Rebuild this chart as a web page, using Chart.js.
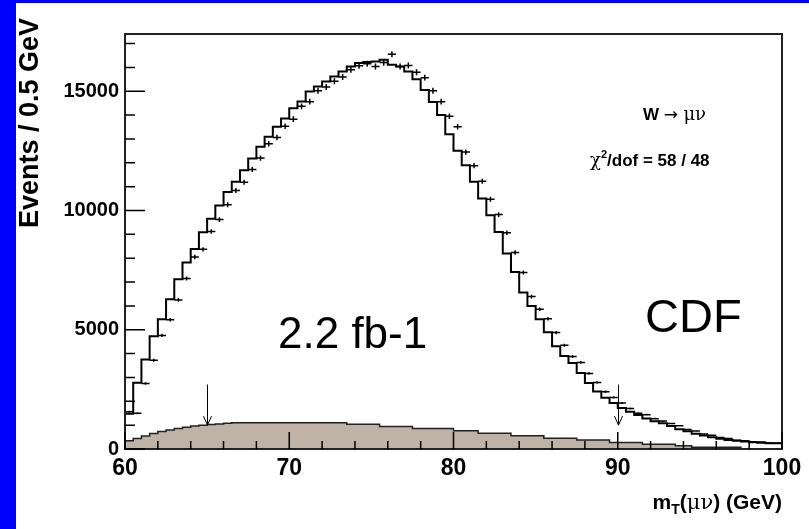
<!DOCTYPE html>
<html>
<head>
<meta charset="utf-8">
<title>W to mu nu transverse mass</title>
<script src="https://cdn.jsdelivr.net/npm/chart.js@4.4.0/dist/chart.umd.min.js"></script>
<style>
  html, body { margin: 0; padding: 0; background: #0000ff; overflow: hidden; }
  #pad { position: absolute; left: 16px; top: 3px; width: 793px; height: 526px; background: #ffffff; }
</style>
</head>
<body>
<div id="pad"><canvas id="mtChart" width="793" height="526"></canvas></div>
<script>
// binning of the m_T histogram (GeV)
const binStart = 60;
const binWidth = 0.5;

// simulated W -> mu nu template, events per bin
const mcEvents = [
  1600, 1480, 2780, 3750, 4730, 5440, 6280, 7120, 7820, 8390,
  9090, 9650, 10210, 10780, 11200, 11690, 12180, 12670, 13090, 13510,
  13860, 14290, 14570, 14990, 15200, 15410, 15620, 15830, 16040, 16180,
  16230, 16250, 16320, 16110, 16040, 15830, 15500, 15050, 14550, 14000,
  13200, 12500, 11900, 11200, 10500, 9800, 9100, 8200, 7420, 6560,
  6000, 5440, 4900, 4310, 3900, 3610, 3190, 2770, 2415, 2150,
  1925, 1715, 1560, 1430, 1280, 1160, 1080, 960, 830, 740,
  640, 570, 490, 430, 380, 345, 310, 285, 260, 240
];

// measured events per bin
const dataEvents = [
  1560, 1500, 2750, 3720, 4760, 5420, 6250, 7150, 8050, 8370,
  9120, 9620, 10240, 10840, 11180, 11720, 12200, 12800, 13060, 13530,
  13830, 14370, 14560, 15020, 15180, 15420, 15600, 15900, 16070, 16150,
  16040, 16200, 16550, 16040, 16080, 15800, 15570, 15020, 14560, 13950,
  13510, 12450, 11880, 11230, 10470, 9830, 9070, 8240, 7400, 6390,
  5860, 5460, 4880, 4350, 3880, 3630, 3170, 2790, 2400, 2160,
  1930, 1700, 1500, 1440, 1270, 1170, 1070, 970, 820, 750,
  630, 580, 480, 440, 370, 350, 300, 290, 250, 245
];

// background estimate, events per bin
const bkgEvents = [
  210, 345, 440, 550, 650, 730, 800, 855, 910, 965,
  995, 1025, 1050, 1075, 1105, 1105, 1105, 1105, 1105, 1105,
  1105, 1105, 1105, 1105, 1105, 1105, 1105, 1105, 1040, 1035,
  1035, 1035, 940, 940, 940, 940, 860, 860, 860, 860,
  860, 760, 760, 760, 665, 665, 665, 665, 555, 555,
  555, 555, 455, 455, 455, 455, 375, 375, 375, 375,
  275, 275, 275, 275, 195, 195, 195, 195, 140, 140,
  70, 70, 70, 70, 70, 70, 0, 0, 0, 0
];

// cut positions marked with arrows (GeV) and arrow span (events)
const cutPositions = [65, 90];
const arrowTop = 2700;
const arrowTip = 1000;

// axis ticks
const xMajor = [60, 70, 80, 90, 100];
const xMinor = [62, 64, 66, 68, 72, 74, 76, 78, 82, 84, 86, 88, 92, 94, 96, 98];
const yMajor = [0, 5000, 10000, 15000];
const yMinor = [1000, 2000, 3000, 4000, 6000, 7000, 8000, 9000, 11000, 12000, 13000, 14000, 16000, 17000];

// histogram outline points: left edge of each bin, plus closing edge
function stepPoints(values) {
  const pts = [{ x: binStart, y: 0 }];
  values.forEach((v, i) => pts.push({ x: binStart + i * binWidth, y: v }));
  const end = binStart + values.length * binWidth;
  pts.push({ x: end, y: values[values.length - 1] });
  return pts;
}

const SANS = '"Liberation Sans", Arial, sans-serif';

const rootStyle = {
  id: 'rootStyle',
  afterDatasetsDraw(chart) {
    const { ctx, chartArea: a, scales: { x, y } } = chart;
    ctx.save();
    ctx.strokeStyle = '#000';

    // data points with error bars
    ctx.lineWidth = 1.5;
    dataEvents.forEach((v, i) => {
      const xc = binStart + (i + 0.5) * binWidth;
      const err = Math.sqrt(v);
      const px = x.getPixelForValue(xc);
      const py = y.getPixelForValue(v);
      ctx.beginPath();
      ctx.moveTo(x.getPixelForValue(xc - binWidth / 2), py);
      ctx.lineTo(x.getPixelForValue(xc + binWidth / 2), py);
      ctx.moveTo(px, y.getPixelForValue(v - err));
      ctx.lineTo(px, y.getPixelForValue(v + err));
      ctx.stroke();
    });

    // cut arrows
    ctx.lineWidth = 1;
    cutPositions.forEach(c => {
      const px = Math.round(x.getPixelForValue(c)) + 0.5;
      const top = y.getPixelForValue(arrowTop);
      const tip = y.getPixelForValue(arrowTip);
      ctx.beginPath();
      ctx.moveTo(px, top);
      ctx.lineTo(px, tip);
      ctx.moveTo(px - 4, tip - 9);
      ctx.lineTo(px, tip);
      ctx.lineTo(px + 4, tip - 9);
      ctx.stroke();
    });

    // frame
    ctx.lineWidth = 2;
    ctx.strokeStyle = '#222';
    ctx.strokeRect(a.left, a.top, a.right - a.left, a.bottom - a.top);

    // inward ticks
    ctx.lineWidth = 1.5;
    ctx.strokeStyle = '#000';
    ctx.beginPath();
    xMajor.forEach(t => {
      const px = x.getPixelForValue(t);
      ctx.moveTo(px, a.bottom); ctx.lineTo(px, a.bottom - 17);
    });
    xMinor.forEach(t => {
      const px = x.getPixelForValue(t);
      ctx.moveTo(px, a.bottom); ctx.lineTo(px, a.bottom - 8);
    });
    yMajor.forEach(t => {
      const py = y.getPixelForValue(t);
      ctx.moveTo(a.left, py); ctx.lineTo(a.left + 20, py);
    });
    yMinor.forEach(t => {
      const py = y.getPixelForValue(t);
      ctx.moveTo(a.left, py); ctx.lineTo(a.left + 10, py);
    });
    ctx.stroke();
    ctx.restore();
  },
  afterDraw(chart) {
    const { ctx, chartArea: a } = chart;
    ctx.save();
    ctx.fillStyle = '#000';
    ctx.textBaseline = 'alphabetic';

    // y axis title, rotated, aligned to the top of the pad
    ctx.save();
    ctx.translate(22, 15);
    ctx.rotate(-Math.PI / 2);
    ctx.font = 'bold 27px ' + SANS;
    ctx.textAlign = 'right';
    ctx.fillText('Events / 0.5 GeV', 0, 0);
    ctx.restore();

    // x axis title: m_T(mu nu) (GeV)
    const pieces = [
      ['m', 'bold 21px ' + SANS, 0],
      ['T', 'bold 14px ' + SANS, 5],
      ['(', 'bold 21px ' + SANS, 0],
      ['\u03bc\u03bd', '21px "DejaVu Serif", serif', 0],
      [') (GeV)', 'bold 21px ' + SANS, 0]
    ];
    let total = 0;
    pieces.forEach(p => { ctx.font = p[1]; total += ctx.measureText(p[0]).width; });
    let cx = a.right - total;
    ctx.textAlign = 'left';
    pieces.forEach(p => {
      ctx.font = p[1];
      ctx.fillText(p[0], cx, 506 + p[2]);
      cx += ctx.measureText(p[0]).width;
    });

    // process label
    const small = 'bold 17px ' + SANS;
    cx = 627;
    ctx.font = small;
    ctx.fillText('W ', cx, 117); cx += ctx.measureText('W ').width;
    ctx.font = '17px "DejaVu Sans", sans-serif';
    ctx.fillText('\u2192 ', cx, 117); cx += ctx.measureText('\u2192 ').width;
    ctx.font = '18px "DejaVu Serif", serif';
    ctx.fillText('\u03bc\u03bd', cx, 117);

    // fit quality
    cx = 574;
    ctx.font = '18px "DejaVu Serif", serif';
    ctx.fillText('\u03c7', cx, 163); cx += ctx.measureText('\u03c7').width;
    ctx.font = 'bold 11px ' + SANS;
    ctx.fillText('2', cx, 155); cx += ctx.measureText('2').width;
    ctx.font = small;
    ctx.fillText('/dof = 58 / 48', cx, 163);

    // luminosity and experiment
    ctx.font = '44px ' + SANS;
    ctx.fillText('2.2 fb-1', 262, 345);
    ctx.font = '47px ' + SANS;
    ctx.fillText('CDF', 629, 329);
    ctx.restore();
  }
};

new Chart(document.getElementById('mtChart'), {
  type: 'line',
  data: {
    datasets: [
      {
        label: 'Background',
        data: stepPoints(bkgEvents),
        stepped: 'after',
        borderColor: '#222',
        borderWidth: 1.5,
        backgroundColor: '#bfb3a8',
        fill: 'origin',
        pointRadius: 0
      },
      {
        label: 'W simulation',
        data: stepPoints(mcEvents),
        stepped: 'after',
        borderColor: '#000',
        borderWidth: 2,
        fill: false,
        pointRadius: 0
      }
    ]
  },
  options: {
    responsive: false,
    animation: false,
    events: [],
    layout: { padding: { left: 0, top: 31, right: 27, bottom: 0 } },
    plugins: { legend: { display: false }, tooltip: { enabled: false } },
    scales: {
      x: {
        type: 'linear',
        min: 60,
        max: 100,
        grid: { display: false, drawTicks: false },
        border: { display: false },
        afterBuildTicks(scale) { scale.ticks = xMajor.map(v => ({ value: v })); },
        ticks: {
          padding: 6,
          color: '#000',
          maxRotation: 0,
          autoSkip: false,
          callback: v => String(v),
          font: { family: SANS, size: 23, weight: 'bold' }
        },
        afterFit(scale) { scale.height = 80; }
      },
      y: {
        min: 0,
        max: 17400,
        grid: { display: false, drawTicks: false },
        border: { display: false },
        afterBuildTicks(scale) { scale.ticks = yMajor.map(v => ({ value: v })); },
        ticks: {
          padding: 6,
          color: '#000',
          autoSkip: false,
          callback: v => String(v),
          font: { family: SANS, size: 20, weight: 'bold' }
        },
        afterFit(scale) { scale.width = 109; }
      }
    }
  },
  plugins: [rootStyle]
});
</script>
</body>
</html>
